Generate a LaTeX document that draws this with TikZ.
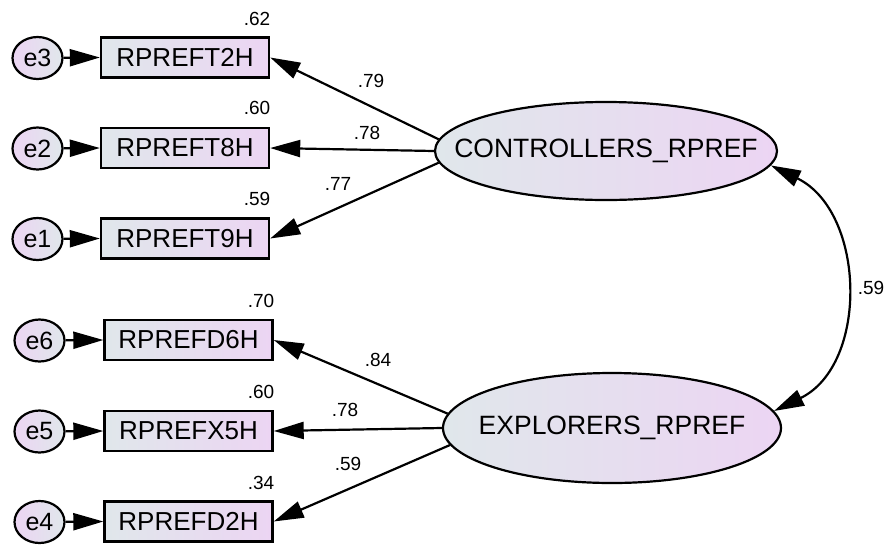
\documentclass[tikz,border=0pt]{standalone}
\usepackage{fontspec}
\setmainfont{Liberation Sans}
\usetikzlibrary{arrows.meta,shapes.geometric}

\definecolor{shadeA}{RGB}{224,231,235}
\definecolor{shadeB}{RGB}{236,213,243}

\tikzset{
  big tip/.tip={Triangle[length=30pt,width=17pt]},
  observed/.style={draw,line width=2.4pt,rectangle,minimum width=168pt,minimum height=40pt,
    inner sep=0pt,left color=shadeA,right color=shadeB,
    font=\fontsize{26}{30}\selectfont},
  latent/.style={draw,line width=2.2pt,ellipse,inner xsep=-45pt,inner ysep=0pt,
    left color=shadeA,right color=shadeB,
    font=\fontsize{26.5}{30}\selectfont},
  errterm/.style={draw,line width=2.2pt,ellipse,minimum width=50pt,minimum height=42pt,inner sep=0pt,
    left color=shadeB,right color=shadeA,font=\fontsize{25}{28}\selectfont},
  coef/.style={inner sep=0pt,font=\fontsize{19}{22}\selectfont},
  path/.style={line width=2.2pt,-big tip},
  covpath/.style={line width=2.2pt,big tip-big tip},
}

\begin{document}
\begin{tikzpicture}[x=1pt,y=1pt]
\useasboundingbox (0,0) rectangle (887,-547);

% observed indicators
\node[observed] (t2) at (185,-57.5) {RPREFT2H};
\node[observed] (t8) at (185,-148) {RPREFT8H};
\node[observed] (t9) at (185,-238.5) {RPREFT9H};
\node[observed] (d6) at (188.5,-340) {RPREFD6H};
\node[observed] (x5) at (188.5,-431) {RPREFX5H};
\node[observed] (d2) at (188.5,-521.5) {RPREFD2H};

% error terms
\node[errterm] (e3) at (37.5,-58) {e3};
\node[errterm] (e2) at (37.5,-148.5) {e2};
\node[errterm] (e1) at (37.5,-239) {e1};
\node[errterm] (e6) at (39.5,-340.5) {e6};
\node[errterm] (e5) at (39.5,-431.5) {e5};
\node[errterm] (e4) at (39.5,-522) {e4};

% latent factors
\node[latent,minimum width=342pt,minimum height=98pt] (ctrl) at (606,-151) {CONTROLLERS\_RPREF};
\node[latent,minimum width=338pt,minimum height=110pt] (expl) at (612,-428) {EXPLORERS\_RPREF};

% squared multiple correlations
\node[coef] at (257,-19) {.62};
\node[coef] at (257,-108) {.60};
\node[coef] at (257,-199) {.59};
\node[coef] at (261,-301) {.70};
\node[coef] at (261,-392) {.60};
\node[coef] at (261,-483) {.34};

% error paths
\foreach \e/\b in {e3/t2,e2/t8,e1/t9,e6/d6,e5/x5,e4/d2}
  \draw[path] (\e) -- (\b.west);

% factor loadings
\draw[path] (ctrl.176) -- (t2.east);
\draw[path] (ctrl.west) -- (t8.east);
\draw[path] (ctrl.184) -- (t9.east);
\draw[path] (expl.175) -- (d6.east);
\draw[path] (expl.west) -- (x5.east);
\draw[path] (expl.186) -- (d2.east);

\node[coef] at (371,-81) {.79};
\node[coef] at (367,-133) {.78};
\node[coef] at (338,-184) {.77};
\node[coef] at (378,-360) {.84};
\node[coef] at (345,-410) {.78};
\node[coef] at (348,-464) {.59};

% factor covariance
\draw[covpath] (expl.6) to[out=26,in=-26,looseness=1.1] (ctrl.-5);
\node[coef] at (871,-288) {.59};
\end{tikzpicture}
\end{document}
